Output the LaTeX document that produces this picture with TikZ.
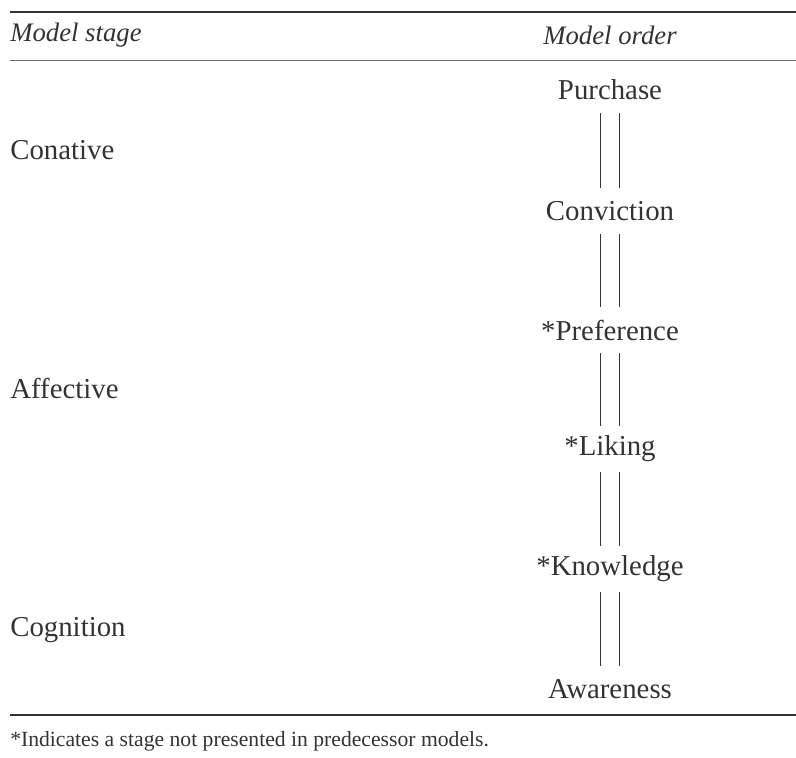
\documentclass[tikz,border=0pt]{standalone}
\usepackage{fontspec}
\setmainfont{Liberation Serif}
\usetikzlibrary{positioning}
\definecolor{inkgray}{HTML}{333333}
\tikzset{
  stagelabel/.style={anchor=west, inner sep=0pt, font=\fontsize{20.5}{24}\selectfont, text=inkgray},
  orderstep/.style={inner sep=0pt, minimum height=1.15cm, font=\fontsize{20.5}{24}\selectfont, text=inkgray},
  heading/.style={inner sep=0pt, font=\fontsize{19}{22}\selectfont\itshape, text=inkgray},
  link/.style={draw=inkgray, line width=0.6pt},
  rule/.style={draw=inkgray, line width=1.3pt}
}
\begin{document}
\begin{tikzpicture}[x=0.025cm, y=-0.025cm]
  \useasboundingbox (0,0) rectangle (796,757);

  % rules of the table
  \draw[rule] (10,12) -- (796,12);
  \draw[rule, line width=0.7pt, draw=inkgray!70] (10,60) -- (796,60);
  \draw[rule, line width=1.1pt] (10,715) -- (796,715);

  % header
  \node[heading, anchor=west] (stagehead) at (10,35) {Model stage};
  \node[heading] (orderhead) at (610,35) {Model order};

  % stages
  \node[stagelabel] (conative) at (10,150) {Conative};
  \node[stagelabel] (affective) at (10,388) {Affective};
  \node[stagelabel] (cognition) at (10,630) {Cognition};

  % order of steps
  \node[orderstep] (purchase) at (610,90) {Purchase};
  \node[orderstep] (conviction) at (610,211) {Conviction};
  \node[orderstep] (preference) at (610,330) {*Preference};
  \node[orderstep] (liking) at (610,449) {*Liking};
  \node[orderstep] (knowledge) at (610,569) {*Knowledge};
  \node[orderstep] (awareness) at (610,689) {Awareness};

  \foreach \a/\b in {purchase/conviction, conviction/preference, preference/liking, liking/knowledge, knowledge/awareness}{
    \draw[link] ([xshift=-0.235cm]\a.south) -- ([xshift=-0.235cm]\b.north);
    \draw[link] ([xshift=0.235cm]\a.south) -- ([xshift=0.235cm]\b.north);
  }

  % footnote
  \node[stagelabel, font=\fontsize{15.4}{18}\selectfont] (note) at (10,741) {*Indicates a stage not presented in predecessor models.};
\end{tikzpicture}
\end{document}
